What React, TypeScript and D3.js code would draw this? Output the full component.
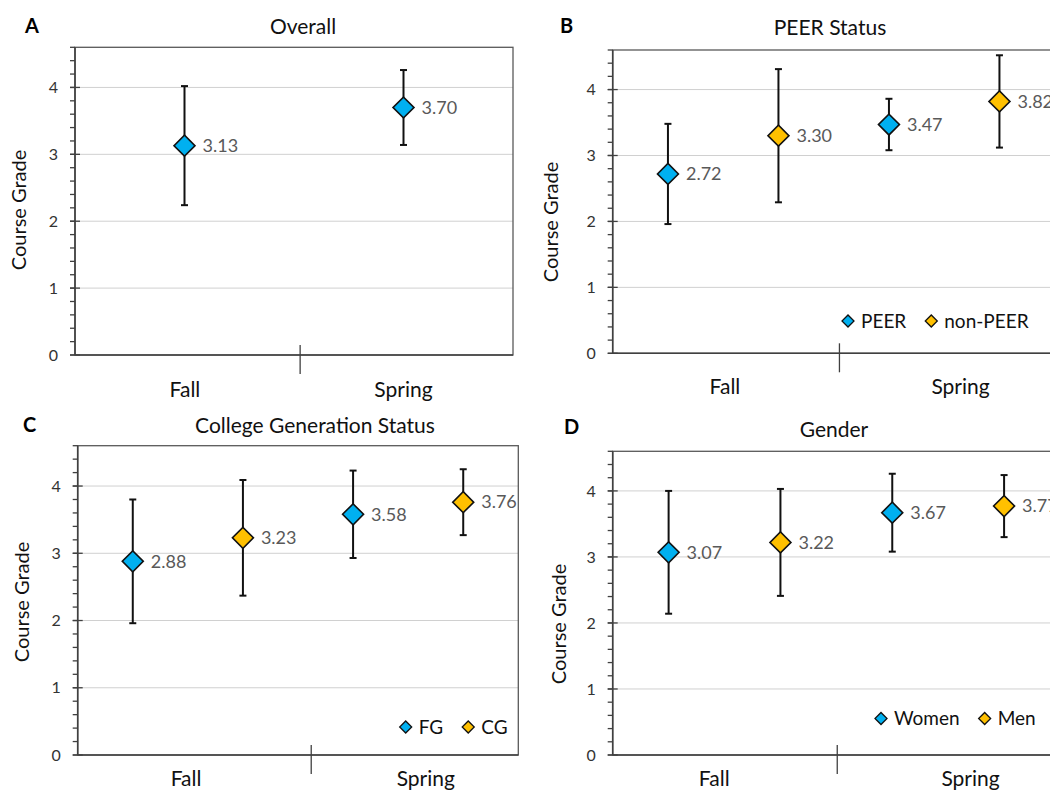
import { useEffect, useRef } from "react";
import * as d3 from "d3";

const periods = ["Fall", "Spring"];
const majorTicks = [0, 1, 2, 3, 4];
const yMax = 4.6;

const overallMean = [3.13, 3.7];
const overallSd = [0.89, 0.56];

const peerMean = [2.72, 3.47];
const peerSd = [0.76, 0.39];
const nonPeerMean = [3.3, 3.82];
const nonPeerSd = [1.01, 0.7];

const fgMean = [2.88, 3.58];
const fgSd = [0.92, 0.65];
const cgMean = [3.23, 3.76];
const cgSd = [0.86, 0.49];

const womenMean = [3.07, 3.67];
const womenSd = [0.93, 0.59];
const menMean = [3.22, 3.77];
const menSd = [0.81, 0.47];

const BLUE = "#00B0F0";
const GOLD = "#FFC000";
const FONT = "Lato, 'Open Sans', sans-serif";

const panels = [
  {
    letter: "A",
    title: "Overall",
    series: [{ name: "Overall", mean: overallMean, sd: overallSd, color: BLUE }],
    legend: null,
    box: { left: 75, right: 513, top: 47.3, bottom: 355 },
    divider: 0.514,
    catAt: [0.251, 0.75],
    catY: 42,
    letterXY: [25, 33],
    titleXY: [303, 34],
    yTitleXY: [26, 210],
  },
  {
    letter: "B",
    title: "PEER Status",
    series: [
      { name: "PEER", mean: peerMean, sd: peerSd, color: BLUE },
      { name: "non-PEER", mean: nonPeerMean, sd: nonPeerSd, color: GOLD },
    ],
    legend: [848, 321],
    box: { left: 612.7, right: 1054.7, top: 50, bottom: 353.3 },
    divider: 0.513,
    catAt: [0.254, 0.787],
    catY: 41,
    letterXY: [560, 33],
    titleXY: [830, 35],
    yTitleXY: [558, 222],
  },
  {
    letter: "C",
    title: "College Generation Status",
    series: [
      { name: "FG", mean: fgMean, sd: fgSd, color: BLUE },
      { name: "CG", mean: cgMean, sd: cgSd, color: GOLD },
    ],
    legend: [405.7, 727],
    box: { left: 77.7, right: 518.3, top: 445.7, bottom: 755 },
    divider: 0.53,
    catAt: [0.246, 0.79],
    catY: 31,
    letterXY: [23, 432],
    titleXY: [315, 433],
    yTitleXY: [29, 602],
  },
  {
    letter: "D",
    title: "Gender",
    series: [
      { name: "Women", mean: womenMean, sd: womenSd, color: BLUE },
      { name: "Men", mean: menMean, sd: menSd, color: GOLD },
    ],
    legend: [881, 718.5],
    box: { left: 612.7, right: 1060, top: 451.3, bottom: 755 },
    divider: 0.502,
    catAt: [0.227, 0.8],
    catY: 31,
    letterXY: [564, 434],
    titleXY: [834, 437],
    yTitleXY: [566, 624],
  },
];

export default function App() {
  const ref = useRef<SVGSVGElement>(null);

  useEffect(() => {
    const svg = d3.select(ref.current);
    svg.selectAll("*").remove();
    svg.append("rect").attr("width", 1050).attr("height", 791).attr("fill", "#fff");

    panels.forEach((p) => {
      const g = svg.append("g").style("font-family", FONT);
      const { left, right, top, bottom } = p.box;
      const nSeries = p.series.length;
      const nPts = periods.length * nSeries;

      const x = d3.scaleLinear().domain([0, 1]).range([left, right]);
      const xi = d3.scaleLinear().domain([0, nPts]).range([left, right]);
      const y = d3.scaleLinear().domain([0, yMax]).range([bottom, top]);

      // gridlines
      g.selectAll(".grid")
        .data(majorTicks.filter((t) => t > 0))
        .join("line")
        .attr("x1", left)
        .attr("x2", right)
        .attr("y1", (d) => y(d))
        .attr("y2", (d) => y(d))
        .attr("stroke", "#d0d0d0")
        .attr("stroke-width", 1);

      // frame
      g.append("rect")
        .attr("x", left)
        .attr("y", top)
        .attr("width", right - left)
        .attr("height", bottom - top)
        .attr("fill", "none")
        .attr("stroke", "#595959")
        .attr("stroke-width", 1.3);

      // axes
      g.append("line")
        .attr("x1", left).attr("x2", left)
        .attr("y1", top).attr("y2", bottom)
        .attr("stroke", "#404040").attr("stroke-width", 1.6);
      g.append("line")
        .attr("x1", left).attr("x2", right)
        .attr("y1", bottom).attr("y2", bottom)
        .attr("stroke", "#404040").attr("stroke-width", 1.6);

      const minor = d3.range(0, yMax + 0.001, 0.2);
      g.selectAll(".minor")
        .data(minor)
        .join("line")
        .attr("x1", left - 5)
        .attr("x2", left)
        .attr("y1", (d) => y(d))
        .attr("y2", (d) => y(d))
        .attr("stroke", "#404040")
        .attr("stroke-width", 1.3);
      g.selectAll(".major")
        .data(majorTicks)
        .join("line")
        .attr("x1", left - 5)
        .attr("x2", left + 5)
        .attr("y1", (d) => y(d))
        .attr("y2", (d) => y(d))
        .attr("stroke", "#404040")
        .attr("stroke-width", 1.3);
      g.selectAll(".ylab")
        .data(majorTicks)
        .join("text")
        .attr("x", left - 17)
        .attr("y", (d) => y(d))
        .attr("dy", "0.35em")
        .attr("text-anchor", "end")
        .attr("font-size", 16)
        .attr("fill", "#333")
        .text((d) => d);

      // category divider and labels
      g.append("line")
        .attr("x1", x(p.divider)).attr("x2", x(p.divider))
        .attr("y1", bottom - 10).attr("y2", bottom + 19)
        .attr("stroke", "#404040").attr("stroke-width", 1.3);
      g.selectAll(".cat")
        .data(periods)
        .join("text")
        .attr("x", (_, i) => x(p.catAt[i]))
        .attr("y", bottom + p.catY)
        .attr("text-anchor", "middle")
        .attr("font-size", 21)
        .attr("fill", "#111")
        .text((d) => d);

      // titles
      g.append("text")
        .attr("x", p.letterXY[0]).attr("y", p.letterXY[1])
        .attr("font-size", 20).attr("font-weight", 700).attr("fill", "#000")
        .text(p.letter);
      g.append("text")
        .attr("x", p.titleXY[0]).attr("y", p.titleXY[1])
        .attr("text-anchor", "middle")
        .attr("font-size", 21).attr("fill", "#111")
        .text(p.title);
      g.append("text")
        .attr("transform", `translate(${p.yTitleXY[0]},${p.yTitleXY[1]}) rotate(-90)`)
        .attr("text-anchor", "middle")
        .attr("font-size", 20).attr("fill", "#111")
        .text("Course Grade");

      // points with error bars
      const pts = periods.flatMap((_, pi) =>
        p.series.map((s, si) => ({
          idx: pi * nSeries + si,
          mean: s.mean[pi],
          sd: s.sd[pi],
          color: s.color,
        }))
      );
      const bar = g.selectAll(".eb").data(pts).join("g");
      bar.append("line")
        .attr("x1", (d) => xi(d.idx + 0.5)).attr("x2", (d) => xi(d.idx + 0.5))
        .attr("y1", (d) => y(d.mean + d.sd)).attr("y2", (d) => y(d.mean - d.sd))
        .attr("stroke", "#111").attr("stroke-width", 2);
      [1, -1].forEach((sign) => {
        bar.append("line")
          .attr("x1", (d) => xi(d.idx + 0.5) - 3.5).attr("x2", (d) => xi(d.idx + 0.5) + 3.5)
          .attr("y1", (d) => y(d.mean + sign * d.sd)).attr("y2", (d) => y(d.mean + sign * d.sd))
          .attr("stroke", "#111").attr("stroke-width", 2);
      });
      const diamond = d3.symbol(d3.symbolSquare, 220);
      bar.append("path")
        .attr("d", diamond)
        .attr("transform", (d) => `translate(${xi(d.idx + 0.5)},${y(d.mean)}) rotate(45)`)
        .attr("fill", (d) => d.color)
        .attr("stroke", "#111")
        .attr("stroke-width", 1.6);
      bar.append("text")
        .attr("x", (d) => xi(d.idx + 0.5) + 18)
        .attr("y", (d) => y(d.mean))
        .attr("dy", "0.35em")
        .attr("font-size", 18)
        .attr("fill", "#595959")
        .text((d) => d.mean.toFixed(2));

      // legend
      if (p.legend) {
        let lx = p.legend[0];
        const ly = p.legend[1];
        const small = d3.symbol(d3.symbolSquare, 72);
        p.series.forEach((s) => {
          g.append("path")
            .attr("d", small)
            .attr("transform", `translate(${lx},${ly}) rotate(45)`)
            .attr("fill", s.color)
            .attr("stroke", "#111")
            .attr("stroke-width", 1.3);
          const t = g.append("text")
            .attr("x", lx + 13)
            .attr("y", ly)
            .attr("dy", "0.35em")
            .attr("font-size", 19)
            .attr("fill", "#111")
            .text(s.name);
          const w = (t.node() as SVGTextElement).getComputedTextLength();
          lx += 13 + w + 25;
        });
      }
    });
  }, []);

  return (
    <svg
      ref={ref}
      width={1050}
      height={791}
      style={{ position: "absolute", left: 0, top: 0 }}
    />
  );
}
